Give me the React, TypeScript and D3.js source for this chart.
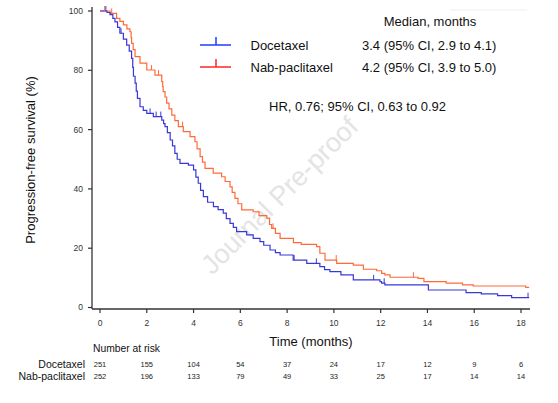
import React from "react";
import * as d3 from "d3";

const docTime = [0, 0.3, 0.43, 0.55, 0.64, 0.75, 0.85, 1.0, 1.14, 1.25, 1.35, 1.4, 1.43, 1.5, 1.55, 1.6, 1.71, 1.85, 2.0, 2.28, 2.64, 2.72, 2.78, 2.88, 3.0, 3.1, 3.2, 3.3, 3.42, 3.78, 4.0, 4.1, 4.2, 4.3, 4.42, 4.6, 4.85, 5.05, 5.27, 5.4, 5.56, 5.7, 5.84, 6.27, 6.55, 6.84, 7.0, 7.27, 7.5, 7.7, 8.26, 8.84, 9.4, 9.6, 9.83, 10.3, 10.83, 11.97, 12.04, 12.18, 14.04, 15.65, 16.3, 17.0, 17.6, 18.35];
const docSurv = [100, 99.5, 98.8, 97.5, 96.3, 94.5, 92.5, 90.5, 88.5, 86.5, 84, 81, 78, 75.7, 73, 70.5, 67.7, 66.5, 65.5, 64.4, 63.2, 62, 61, 59, 56.5, 54.5, 52, 50, 48.6, 48, 46.4, 44, 41.9, 39.5, 37.4, 35.5, 34, 33, 31.8, 30, 28.4, 27, 25.6, 24.5, 23.3, 22.2, 21, 19.4, 18.5, 17.7, 16, 14.9, 13.8, 12.8, 12.1, 11, 9.3, 8.7, 8.2, 7.6, 5.9, 5.0, 4.6, 4.0, 3.3, 3.3];

const nabTime = [0, 0.43, 0.71, 0.85, 1.0, 1.15, 1.28, 1.33, 1.35, 1.42, 1.5, 1.71, 2.0, 2.35, 2.64, 2.68, 2.7, 2.78, 2.85, 2.95, 3.07, 3.2, 3.35, 3.56, 3.85, 4.06, 4.15, 4.28, 4.38, 4.49, 4.84, 5.2, 5.35, 5.56, 5.65, 5.77, 5.9, 6.06, 6.55, 6.8, 7.13, 7.25, 7.34, 7.5, 7.7, 8.27, 8.6, 9.26, 9.4, 9.62, 10.12, 10.83, 11.26, 11.83, 12.04, 12.18, 12.4, 13.6, 13.85, 14.8, 15.5, 15.96, 18.2, 18.35];
const nabSurv = [100, 99.2, 97.5, 96.5, 95.3, 94, 93, 91, 89.1, 87, 84.6, 82.4, 80.1, 78.4, 76.2, 74.5, 72.8, 71, 68.9, 67, 64.9, 63, 61, 59.3, 57.6, 55.9, 53.5, 50.9, 49, 46.9, 45.3, 44.1, 42.5, 40.7, 38.8, 36.8, 35, 32.9, 32.3, 31, 30.1, 28, 26.7, 25, 23.3, 21.9, 21.3, 20.5, 18.3, 16, 14.9, 14.3, 12.9, 12.4, 11.5, 11, 10.2, 9.8, 8.7, 8.2, 7.6, 7.25, 6.8, 6.8];

const docCensor = [0.25, 0.9, 2.14, 2.4, 2.6, 8.3, 9.25, 11.7, 12.15, 18.3];
const nabCensor = [0.2, 0.5, 2.2, 2.5, 3.53, 7.4, 10.1, 13.4];

const xTicks = [0, 2, 4, 6, 8, 10, 12, 14, 16, 18];
const yTicks = [0, 20, 40, 60, 80, 100];
const riskTimes = [0, 2, 4, 6, 8, 10, 12, 14, 16, 18];
const docRisk = [251, 155, 104, 54, 37, 24, 17, 12, 9, 6];
const nabRisk = [252, 196, 133, 79, 49, 33, 25, 17, 14, 14];

const groups = ["Docetaxel", "Nab-paclitaxel"];
const medians = ["3.4 (95% CI, 2.9 to 4.1)", "4.2 (95% CI, 3.9 to 5.0)"];
const hrText = "HR, 0.76; 95% CI, 0.63 to 0.92";

const FONT = "'Liberation Sans', Arial, Helvetica, sans-serif";
const BLUE = "#3838d8";
const ORANGE = "#ff6a3a";
const LEG_BLUE = "#1f3cff";
const LEG_RED = "#ff2525";

export default function App() {
  const W = 558, H = 403;
  const x = d3.scaleLinear().domain([0, 18]).range([100, 521]);
  const y = d3.scaleLinear().domain([0, 100]).range([307.5, 11]);
  const axisY = 309;
  const axisX = 92;

  const line = d3
    .line<[number, number]>()
    .x((d) => x(d[0]))
    .y((d) => y(d[1]))
    .curve(d3.curveStepAfter);

  const docPts: [number, number][] = docTime.map((t, i) => [t, docSurv[i]]);
  const nabPts: [number, number][] = nabTime.map((t, i) => [t, nabSurv[i]]);

  const survAt = (times: number[], surv: number[], t: number) => {
    const i = d3.bisectRight(times, t) - 1;
    return surv[Math.max(0, i)];
  };

  return (
    <svg width={W} height={H} style={{ position: "absolute", left: 0, top: 0, background: "#fff" }} fontFamily={FONT}>
      <rect x={0} y={0} width={W} height={H} fill="#fff" />
      <line x1={450} x2={527} y1={10} y2={10} stroke="#eeeeee" strokeWidth={1} />
      {/* watermark */}
      <text
        x={286}
        y={202}
        transform="rotate(-45 286 202)"
        textAnchor="middle"
        fontSize={27}
        fill="#e4e4e4"
      >
        Journal Pre-proof
      </text>

      {/* axes */}
      <line x1={axisX} x2={axisX} y1={7} y2={axisY} stroke="#333" strokeWidth={1.3} />
      <line x1={axisX} x2={530} y1={axisY} y2={axisY} stroke="#333" strokeWidth={1.3} />
      {yTicks.map((v) => (
        <g key={"y" + v}>
          <line x1={axisX - 4} x2={axisX} y1={y(v)} y2={y(v)} stroke="#333" strokeWidth={1.2} />
          <text x={83} y={y(v)} dy="0.35em" textAnchor="end" fontSize={8.5} fill="#333">
            {v}
          </text>
        </g>
      ))}
      {xTicks.map((v) => (
        <g key={"x" + v}>
          <line x1={x(v)} x2={x(v)} y1={axisY} y2={axisY + 4} stroke="#333" strokeWidth={1.2} />
          <text x={x(v)} y={323} dy="0.35em" textAnchor="middle" fontSize={8.5} fill="#333">
            {v}
          </text>
        </g>
      ))}
      <text x={311} y={346} textAnchor="middle" fontSize={13} fill="#111">
        Time (months)
      </text>
      <text
        x={35}
        y={160}
        transform="rotate(-90 35 160)"
        textAnchor="middle"
        fontSize={13}
        fill="#111"
      >
        Progression-free survival (%)
      </text>

      {/* curves */}
      <path d={line(nabPts) || ""} fill="none" stroke={ORANGE} strokeWidth={1.2} />
      <path d={line(docPts) || ""} fill="none" stroke={BLUE} strokeWidth={1.2} />
      {nabCensor.map((t, i) => {
        const yy = y(survAt(nabTime, nabSurv, t));
        return <line key={"nc" + i} x1={x(t)} x2={x(t)} y1={yy} y2={yy - 5} stroke={ORANGE} strokeWidth={1} />;
      })}
      {docCensor.map((t, i) => {
        const yy = y(survAt(docTime, docSurv, t));
        return <line key={"dc" + i} x1={x(t)} x2={x(t)} y1={yy} y2={yy - 5} stroke={BLUE} strokeWidth={1} />;
      })}

      {/* legend */}
      <text x={430} y={21.5} dy="0.35em" textAnchor="middle" fontSize={13} fill="#111">
        Median, months
      </text>
      {groups.map((g, i) => {
        const ly = 45 + i * 22;
        const c = i === 0 ? LEG_BLUE : LEG_RED;
        return (
          <g key={g}>
            <line x1={200} x2={231} y1={ly} y2={ly} stroke={c} strokeWidth={1.5} />
            <line x1={216} x2={216} y1={ly} y2={ly - 8} stroke={c} strokeWidth={1.5} />
            <text x={250.5} y={ly} dy="0.35em" fontSize={13} fill="#111">
              {g}
            </text>
            <text x={362} y={ly} dy="0.35em" fontSize={13} fill="#111">
              {medians[i]}
            </text>
          </g>
        );
      })}
      <text x={269} y={106} dy="0.35em" fontSize={13} fill="#111">
        {hrText}
      </text>

      {/* number at risk */}
      <text x={93} y={348.5} dy="0.35em" fontSize={10.3} fill="#111">
        Number at risk
      </text>
      <text x={85} y={364.5} dy="0.35em" textAnchor="end" fontSize={10.5} fill="#111">
        {groups[0]}
      </text>
      <text x={85} y={376} dy="0.35em" textAnchor="end" fontSize={10.5} fill="#111">
        {groups[1]}
      </text>
      {riskTimes.map((t, i) => (
        <g key={"r" + t}>
          <text x={x(t)} y={364.5} dy="0.35em" textAnchor="middle" fontSize={7.5} fill="#222">
            {docRisk[i]}
          </text>
          <text x={x(t)} y={376} dy="0.35em" textAnchor="middle" fontSize={7.5} fill="#222">
            {nabRisk[i]}
          </text>
        </g>
      ))}
    </svg>
  );
}
